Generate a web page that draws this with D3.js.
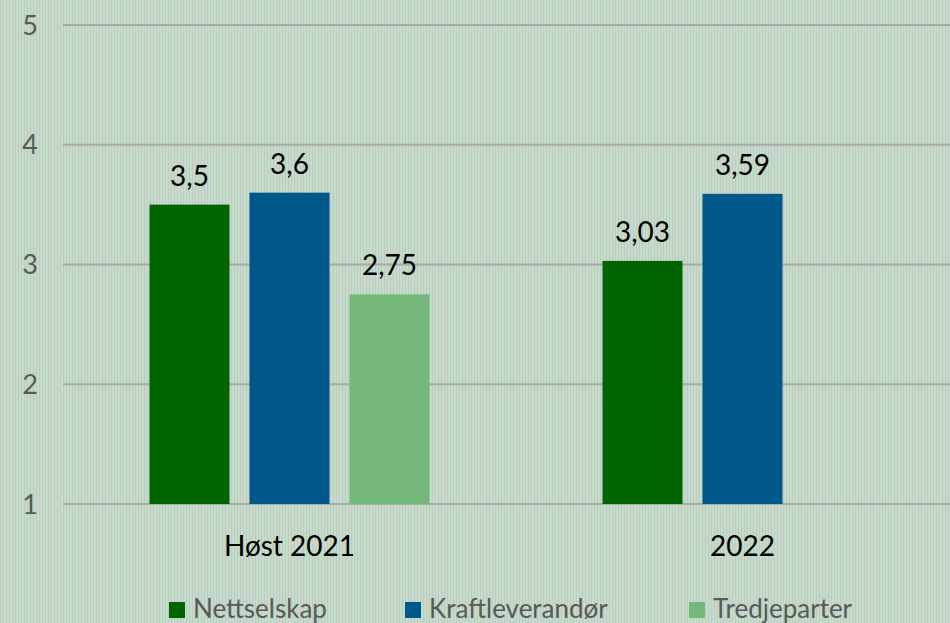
<!DOCTYPE html>
<html>
<head>
<meta charset="utf-8">
<title>Bars</title>
<script src="https://d3js.org/d3.v7.min.js"></script>
<style>
  body { margin: 0; }
  svg { display: block; font-family: Lato, "Open Sans", sans-serif; }
</style>
</head>
<body>
<div id="chart"></div>
<script>
// data
var categories = ["Høst 2021", "2022"];
var seriesNames = ["Nettselskap", "Kraftleverandør", "Tredjeparter"];
var nettselskap = [3.5, 3.03];
var kraftleverandor = [3.6, 3.59];
var tredjeparter = [2.75, null];
var yTicks = [1, 2, 3, 4, 5];
var colors = ["#006400", "#00578a", "#75b97a"];

var width = 950, height = 623;
var margin = {top: 25, right: -19, bottom: 119, left: 63};

var svg = d3.select("#chart").append("svg")
    .attr("width", width)
    .attr("height", height);

// striped background
var defs = svg.append("defs");
var pat = defs.append("pattern")
    .attr("id", "stripes")
    .attr("width", 3).attr("height", 10)
    .attr("patternUnits", "userSpaceOnUse");
pat.append("rect").attr("width", 3).attr("height", 10).attr("fill", "#bfdfc6");
pat.append("rect").attr("width", 1).attr("height", 10).attr("fill", "#c8c4c8");
svg.append("rect").attr("width", width).attr("height", height).attr("fill", "url(#stripes)");

var x0 = d3.scaleBand()
    .domain(categories)
    .range([margin.left, width - margin.right]);

var x1 = d3.scaleBand()
    .domain(seriesNames)
    .range([86.5, x0.bandwidth() - 86.5])
    .paddingInner(0.2);

var y = d3.scaleLinear()
    .domain([1, 5])
    .range([height - margin.bottom, margin.top]);

// gridlines
svg.append("g")
  .selectAll("line")
  .data(yTicks)
  .enter().append("line")
    .attr("x1", margin.left)
    .attr("x2", width)
    .attr("y1", function(d) { return y(d); })
    .attr("y2", function(d) { return y(d); })
    .attr("stroke", "#a8a8a8")
    .attr("stroke-width", 2);

// y axis labels
svg.append("g")
  .selectAll("text")
  .data(yTicks)
  .enter().append("text")
    .attr("x", 30)
    .attr("y", function(d) { return y(d); })
    .attr("dy", "0.36em")
    .attr("text-anchor", "middle")
    .attr("fill", "#595959")
    .style("font-size", "27px")
    .text(function(d) { return d; });

var series = [nettselskap, kraftleverandor, tredjeparter];
var rows = [];
series.forEach(function(vals, s) {
  vals.forEach(function(v, c) {
    if (v != null) rows.push({cat: categories[c], name: seriesNames[s], value: v, color: colors[s]});
  });
});

var fmt = function(v) { return String(v).replace(".", ","); };

svg.append("g")
  .selectAll("rect")
  .data(rows)
  .enter().append("rect")
    .attr("x", function(d) { return x0(d.cat) + x1(d.name); })
    .attr("y", function(d) { return y(d.value); })
    .attr("width", x1.bandwidth())
    .attr("height", function(d) { return y(1) - y(d.value); })
    .attr("fill", function(d) { return d.color; });

svg.append("g")
  .selectAll("text")
  .data(rows)
  .enter().append("text")
    .attr("x", function(d) { return x0(d.cat) + x1(d.name) + x1.bandwidth() / 2; })
    .attr("y", function(d) { return y(d.value) - 19; })
    .attr("text-anchor", "middle")
    .attr("fill", "#000")
    .style("font-size", "28px")
    .text(function(d) { return fmt(d.value); });

// category labels
svg.append("g")
  .selectAll("text")
  .data(categories)
  .enter().append("text")
    .attr("x", function(d) { return x0(d) + x0.bandwidth() / 2; })
    .attr("y", 556)
    .attr("text-anchor", "middle")
    .attr("fill", "#000")
    .style("font-size", "28px")
    .text(function(d) { return d; });

// legend
var legendX = [169, 405, 689];
var legend = svg.append("g")
  .selectAll("g")
  .data(seriesNames)
  .enter().append("g")
    .attr("transform", function(d, i) { return "translate(" + legendX[i] + ",602)"; });
legend.append("rect")
    .attr("width", 16).attr("height", 16)
    .attr("fill", function(d, i) { return colors[i]; });
legend.append("text")
    .attr("x", 24)
    .attr("y", 16)
    .attr("fill", "#595959")
    .style("font-size", "26px")
    .text(function(d) { return d; });
</script>
</body>
</html>
